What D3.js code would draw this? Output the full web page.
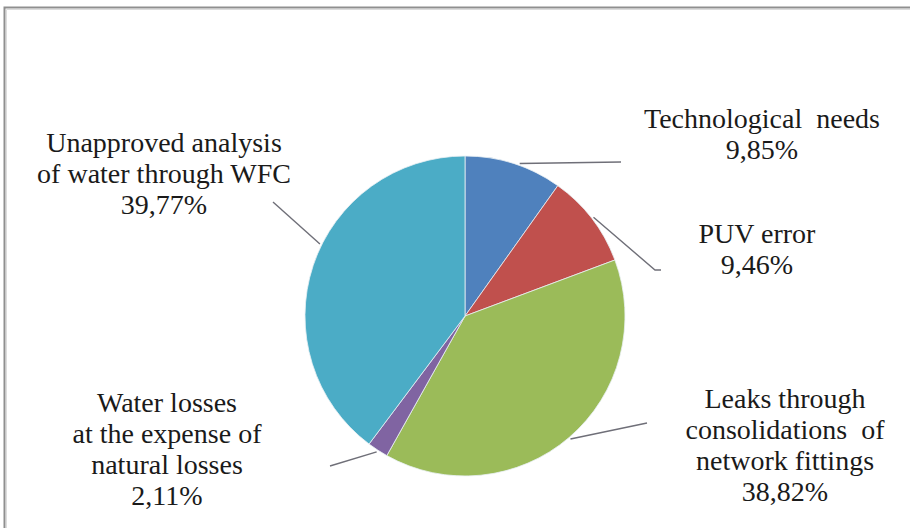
<!DOCTYPE html>
<html>
<head>
<meta charset="utf-8">
<script src="https://cdn.jsdelivr.net/npm/d3@7"></script>
<style>
  svg, svg text { font-family: 'Liberation Serif', 'Times New Roman', Times, serif !important; }
</style>
</head>
<body style="margin:0">
<svg id="chart" width="910" height="528" style="font-family:'Liberation Serif'"></svg>
<script>
// data, clockwise from 12 o'clock
const categories = [
    ["Technological\u00a0 needs"],
    ["PUV error"],
    ["Leaks through", "consolidations\u00a0 of", "network fittings"],
    ["Water losses", "at the expense of", "natural losses"],
    ["Unapproved analysis", "of water through WFC"]
];
const shares = [9.85, 9.46, 38.82, 2.11, 39.77];
const shareLabels = ["9,85%", "9,46%", "38,82%", "2,11%", "39,77%"];
const colors = ["#4f81bd", "#c0504d", "#9bbb59", "#8064a2", "#4bacc6"];

// label layout: text centre x, first baseline y, leader end, angle tweak (deg)
const labelX = [762, 757, 785, 167, 164];
const labelY = [128, 243, 408, 412, 152];
const leaderEnd = [[621, 162], [655, 270, 661, 270], [647, 423], [330, 466], [273, 202]];
const leaderTweak = [2, 0, 0, 0, 8];

const svg = d3.select("#chart");
const cx = 465, cy = 316, radius = 160;
const lineH = 31;

// labels first, one text per line
const labelLayer = svg.append("g");

// frame
svg.append("path")
    .attr("d", "M4.5,528 V7.5 H910")
    .attr("fill", "none")
    .attr("stroke", "#8f8f8f")
    .attr("stroke-width", 2);
svg.append("path")
    .attr("d", "M6.5,528 V9.5 H910")
    .attr("fill", "none")
    .attr("stroke", "#dcdcdc")
    .attr("stroke-width", 1);

const pie = d3.pie().sort(null).value(d => d);
const arcs = pie(shares);
const arc = d3.arc().innerRadius(0).outerRadius(radius);

const g = svg.append("g").attr("transform", `translate(${cx},${cy})`);

g.selectAll("path.slice")
    .data(arcs)
    .join("path")
    .attr("class", "slice")
    .attr("d", arc)
    .attr("fill", (d, i) => colors[i])
    .attr("stroke", "#e8f0f4")
    .attr("stroke-width", 0.8);

// leader lines
arcs.forEach((d, i) => {
    const a = (d.startAngle + d.endAngle) / 2 + leaderTweak[i] * Math.PI / 180;
    const p = d3.pointRadial(a, radius + 2);
    const pts = [[cx + p[0], cy + p[1]]];
    const e = leaderEnd[i];
    for (let k = 0; k < e.length; k += 2) pts.push([e[k], e[k + 1]]);
    svg.append("path")
        .attr("d", d3.line()(pts))
        .attr("fill", "none")
        .attr("stroke", "#6f6f78")
        .attr("stroke-width", 1.4);
});

categories.forEach((lines, i) => {
    lines.concat([shareLabels[i]]).forEach((s, k) => {
        labelLayer.append("text")
            .attr("x", labelX[i])
            .attr("y", labelY[i] + k * lineH)
            .attr("text-anchor", "middle")
            .attr("font-size", 28)
            .attr("fill", "#1a1a1a")
            .style("font-family", "'Liberation Serif'")
            .text(s);
    });
});
</script>
</body>
</html>
